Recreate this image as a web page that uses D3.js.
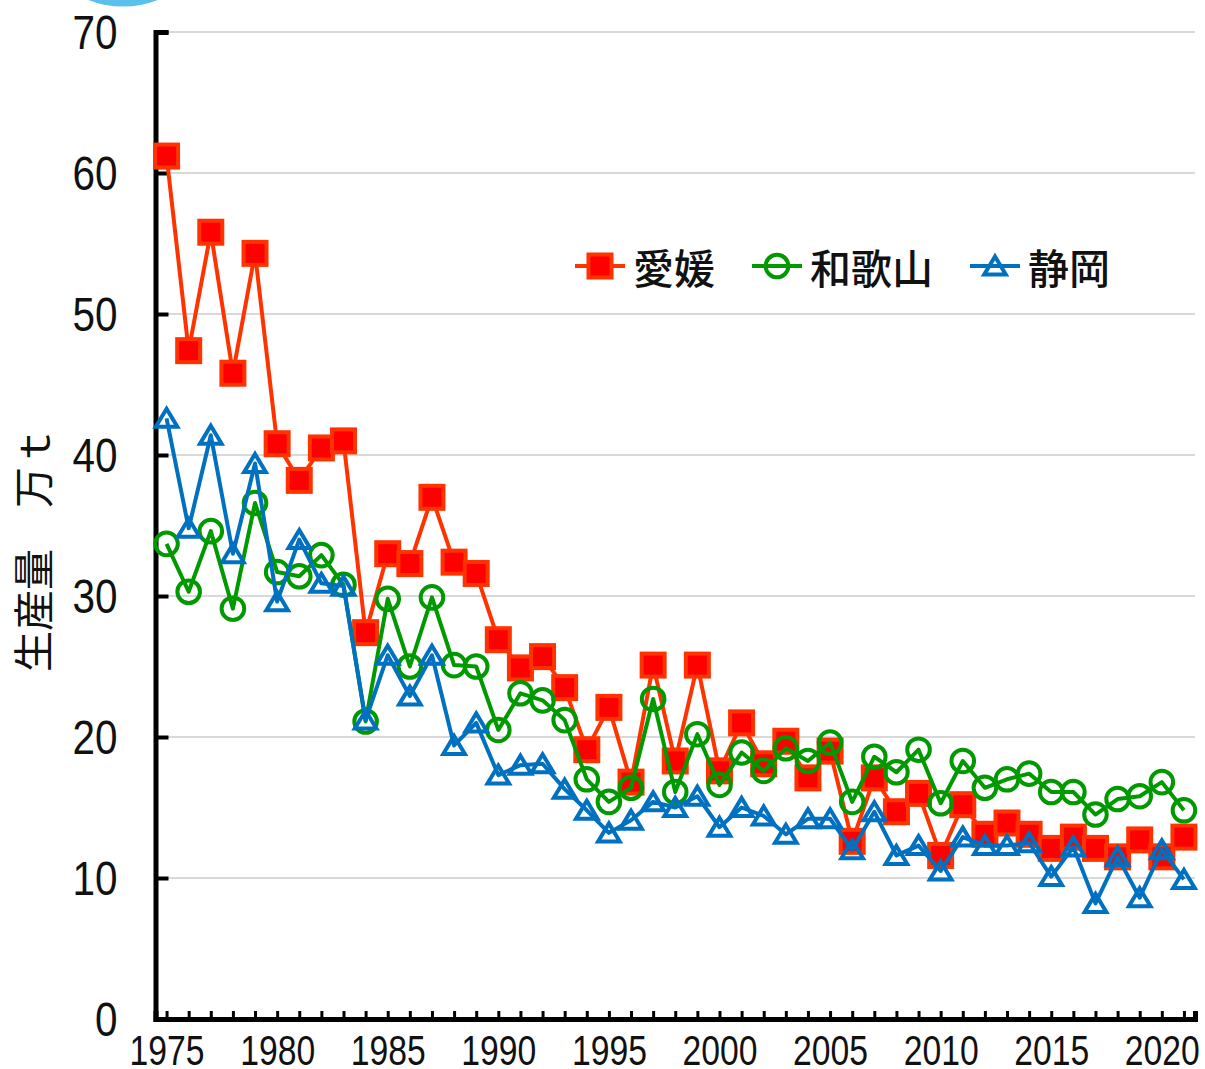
<!DOCTYPE html>
<html><head><meta charset="utf-8">
<script src="https://cdn.jsdelivr.net/npm/d3@7"></script>
<style>
html,body{margin:0;padding:0;background:#fff;}
svg{display:block;}
.num{font-family:"Liberation Sans Narrow","Arial Narrow","Liberation Sans",sans-serif;fill:#111;}
.jp{font-family:"Noto Sans CJK JP","Noto Sans",sans-serif;fill:#111;}
</style></head>
<body>
<script>
const years = d3.range(1975, 2022);
const ehime = [61.2,47.4,55.8,45.8,54.3,40.8,38.2,40.5,41.0,27.4,33.0,32.3,37.0,32.4,31.6,26.9,24.9,25.7,23.5,19.1,22.1,16.8,25.1,18.3,25.1,17.6,21.0,18.1,19.7,17.1,19.0,12.6,17.1,14.7,16.0,11.6,15.2,13.1,13.9,13.1,12.1,12.9,12.1,11.5,12.7,11.5,12.9];
const wakayama = [33.7,30.3,34.6,29.1,36.6,31.7,31.4,32.9,30.8,21.1,29.8,25.0,29.9,25.1,25.0,20.5,23.1,22.6,21.2,17.0,15.4,16.4,22.7,16.1,20.2,16.6,18.9,17.6,19.2,18.3,19.6,15.4,18.6,17.5,19.1,15.3,18.3,16.4,17.0,17.4,16.1,16.1,14.5,15.6,15.8,16.8,14.8];
const shizuoka = [42.6,34.8,41.4,33.0,39.4,29.6,34.0,30.9,30.7,21.2,25.8,22.9,25.8,19.4,21.0,17.3,18.0,18.1,16.3,14.8,13.2,14.1,15.4,15.0,15.8,13.6,15.0,14.4,13.1,14.2,14.2,12.0,14.7,11.6,12.3,10.5,12.9,12.3,12.3,12.5,10.1,12.2,8.2,11.5,8.6,12.0,9.9];
const seriesNames = ["愛媛","和歌山","静岡"];
const yTicks = [0,10,20,30,40,50,60,70];
const xTickLabels = [1975,1980,1985,1990,1995,2000,2005,2010,2015,2020];
const yLabel = "生産量　万ｔ";

const W = 1205, H = 1069;
const svg = d3.select("body").append("svg").attr("width", W).attr("height", H);

// decorative partial circle at top-left
svg.append("circle").attr("cx",123).attr("cy",-90).attr("r",96.5).attr("fill","#5bc0eb");

const x = d3.scalePoint().domain(years).range([155.5, 1195]).padding(0.5);
const y = d3.scaleLinear().domain([0,70]).range([1019, 32]);

// gridlines
svg.append("g").selectAll("line").data(yTicks.filter(d=>d>0)).join("line")
  .attr("x1",155).attr("x2",1195).attr("y1",d=>y(d)).attr("y2",d=>y(d))
  .attr("stroke","#d9d9d9").attr("stroke-width",2);

// y axis
const yAxis = svg.append("g").attr("transform","translate(155.5,0)")
  .call(d3.axisLeft(y).tickValues(yTicks).tickSizeInner(-13).tickSizeOuter(-13).tickPadding(38).tickFormat(d3.format("d")));
yAxis.select(".domain").attr("stroke","#000").attr("stroke-width",5);
yAxis.selectAll(".tick line").attr("stroke","#000").attr("stroke-width",4);
yAxis.selectAll(".tick text").attr("class","num").attr("font-size",48).attr("dy","0.35em").attr("fill","#111")
  .attr("textLength", d => String(d).length * 22.5).attr("lengthAdjust","spacingAndGlyphs");

// x axis
const xAxis = svg.append("g").attr("transform","translate(0,1019)")
  .call(d3.axisBottom(x).tickSizeInner(-8).tickSizeOuter(-8).tickPadding(14)
    .tickFormat(d => xTickLabels.includes(d) ? d : ""));
xAxis.select(".domain").attr("stroke","#000").attr("stroke-width",5);
xAxis.selectAll(".tick line").attr("stroke","#000").attr("stroke-width",3);
xAxis.selectAll(".tick text").attr("class","num").attr("font-size",42).attr("fill","#111").attr("dy","0.75em")
  .filter(d => xTickLabels.includes(d))
  .attr("textLength", 75).attr("lengthAdjust","spacingAndGlyphs");
yAxis.attr("font-family",null); xAxis.attr("font-family",null);

// y label
svg.append("text").attr("class","jp").attr("transform","translate(31,549) rotate(-90)")
  .attr("text-anchor","middle").attr("dominant-baseline","central").attr("font-size",41).text(yLabel);

const line = d3.line().x((d,i)=>x(years[i])).y(d=>y(d));
const triPath = "M0,-9.5L10.8,8.5L-10.8,8.5Z";

const styles = [
  {data: ehime, color:"#ff3300", marker:"square"},
  {data: wakayama, color:"#009900", marker:"circle"},
  {data: shizuoka, color:"#0070c0", marker:"triangle"}
];

function drawMarker(g, type, color){
  if(type==="square"){
    g.append("rect").attr("x",-11.5).attr("y",-11.5).attr("width",23).attr("height",23)
      .attr("fill","#ff0000").attr("stroke",color).attr("stroke-width",4);
  } else if(type==="circle"){
    g.append("circle").attr("r",11.3).attr("fill","none").attr("stroke",color).attr("stroke-width",4);
  } else {
    g.append("path").attr("d",triPath).attr("fill","none").attr("stroke",color).attr("stroke-width",4);
  }
}

styles.forEach(s=>{
  svg.append("path").datum(s.data).attr("d",line).attr("fill","none")
    .attr("stroke",s.color).attr("stroke-width",4).attr("stroke-linejoin","round");
  svg.append("g").selectAll("g").data(s.data).join("g")
    .attr("transform",(d,i)=>`translate(${x(years[i])},${y(d)})`)
    .each(function(){ drawMarker(d3.select(this), s.marker, s.color); });
});

// legend
const legendX = [575, 752, 970];
const leg = svg.append("g");
styles.forEach((s,i)=>{
  const g = leg.append("g").attr("transform",`translate(${legendX[i]},266)`);
  g.append("line").attr("x1",0).attr("x2",50).attr("stroke",s.color).attr("stroke-width",4);
  const m = g.append("g").attr("transform","translate(25,0)");
  drawMarker(m, s.marker, s.color);
  g.append("text").attr("class","jp").attr("x",58).attr("dominant-baseline","central")
    .attr("font-size",41).attr("font-weight",500).text(seriesNames[i]);
});
</script>
</body></html>
